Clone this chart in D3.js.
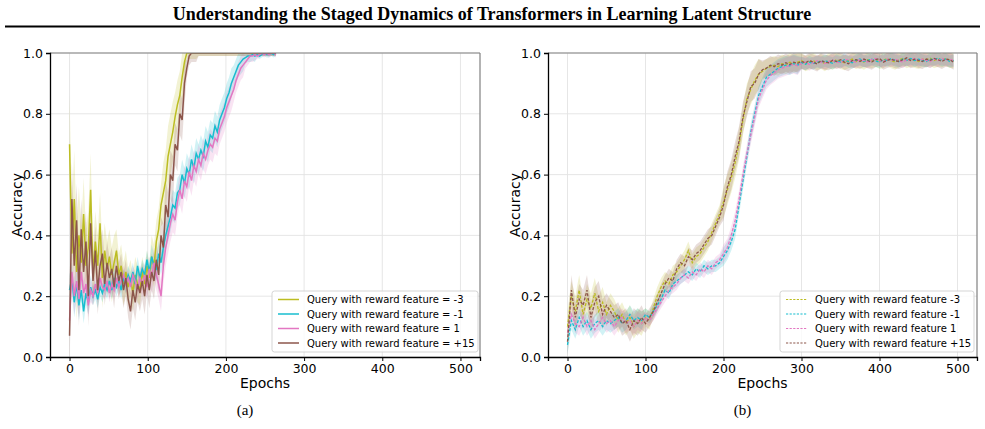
<!DOCTYPE html>
<html lang="en">
<head>
<meta charset="UTF-8">
<title>Staged Dynamics</title>
<script src="https://cdn.jsdelivr.net/npm/d3@7/dist/d3.min.js"></script>
<style>
  body { margin: 0; background: #fff; }
  svg text { font-family: "DejaVu Sans", sans-serif; }
  .serif { font-family: "Liberation Serif", "Times New Roman", serif !important; }
</style>
</head>
<body>
<svg id="fig" width="985" height="429"></svg>
<script>
// ---- data ----
// panel (a): one value every 3 epochs, epoch 0..264
var stepA = 3;
var oliveA = [0.70,0.34,0.52,0.28,0.40,0.31,0.47,0.30,0.36,0.55,
              0.27,0.38,0.30,0.44,0.26,0.35,0.29,0.33,0.27,0.31,
              0.35,0.27,0.30,0.24,0.28,0.23,0.26,0.21,0.27,0.24,
              0.22,0.28,0.24,0.30,0.26,0.33,0.30,0.38,0.42,0.50,
              0.54,0.58,0.66,0.70,0.74,0.79,0.83,0.86,0.92,0.97,
              1.0,1.0,1.0,1.0,1.0,1.0,1.0,1.0,1.0,1.0,
              1.0,1.0,1.0,1.0,1.0,1.0,1.0,1.0,1.0,1.0,
              1.0,1.0,1.0,1.0,1.0,1.0,1.0,1.0,1.0,1.0,
              1.0,1.0,1.0,1.0,1.0,1.0,1.0,1.0,1.0];
var cyanA = [0.22,0.26,0.18,0.24,0.17,0.22,0.15,0.21,0.18,0.23,
             0.20,0.22,0.19,0.23,0.21,0.24,0.22,0.25,0.22,0.26,
             0.23,0.25,0.22,0.26,0.24,0.27,0.25,0.28,0.24,0.30,
             0.26,0.29,0.27,0.32,0.28,0.33,0.30,0.29,0.34,0.31,
             0.36,0.40,0.43,0.46,0.50,0.49,0.54,0.55,0.60,0.57,
             0.62,0.60,0.65,0.62,0.67,0.65,0.68,0.66,0.71,0.69,
             0.73,0.72,0.76,0.74,0.78,0.80,0.82,0.85,0.87,0.90,
             0.92,0.94,0.96,0.97,0.98,0.985,0.99,0.99,0.995,0.99,
             0.995,0.99,0.995,1.0,0.995,0.995,1.0,0.995,1.0];
var pinkA = [0.12,0.28,0.20,0.25,0.19,0.28,0.21,0.24,0.17,0.22,
             0.20,0.24,0.21,0.26,0.23,0.22,0.25,0.21,0.24,0.22,
             0.26,0.23,0.25,0.27,0.24,0.26,0.23,0.27,0.25,0.22,
             0.26,0.24,0.27,0.23,0.29,0.26,0.31,0.27,0.24,0.20,
             0.30,0.36,0.40,0.44,0.47,0.45,0.51,0.55,0.52,0.58,
             0.56,0.61,0.58,0.63,0.61,0.65,0.63,0.67,0.65,0.68,
             0.70,0.69,0.72,0.71,0.75,0.77,0.79,0.82,0.84,0.86,
             0.88,0.91,0.93,0.95,0.96,0.97,0.98,0.99,0.99,0.995,
             0.99,0.995,1.0,0.995,1.0,0.995,1.0,1.0,0.995];
var brownA = [0.07,0.52,0.30,0.45,0.22,0.42,0.28,0.38,0.20,0.44,
              0.25,0.35,0.22,0.30,0.34,0.24,0.31,0.26,0.29,0.23,
              0.30,0.25,0.28,0.22,0.26,0.19,0.15,0.22,0.18,0.24,
              0.21,0.25,0.20,0.27,0.22,0.28,0.25,0.32,0.27,0.40,
              0.36,0.50,0.46,0.60,0.58,0.70,0.68,0.80,0.78,0.90,
              0.95,0.99,1.0,1.0,1.0,1.0,1.0,1.0,1.0,1.0,
              1.0,1.0,1.0,1.0,1.0,1.0,1.0,1.0,1.0,1.0,
              1.0,1.0,1.0,1.0,1.0,1.0,1.0,1.0,1.0,1.0,
              1.0,1.0,1.0,1.0,1.0,1.0,1.0,1.0,1.0];
// shaded spread, one value per 15-epoch bin
var binA = 15;
var oliveSpreadA = [0.16,0.12,0.10,0.09,0.07,0.06,0.05,0.07,0.10,0.08,0.02,0.01,0.01,0.01,0.01,0.01,0.01,0.01];
var cyanSpreadA  = [0.05,0.04,0.03,0.03,0.03,0.03,0.03,0.04,0.05,0.05,0.05,0.05,0.05,0.05,0.04,0.02,0.01,0.01];
var pinkSpreadA  = [0.06,0.04,0.03,0.03,0.03,0.03,0.04,0.05,0.06,0.05,0.05,0.05,0.05,0.05,0.04,0.02,0.01,0.01];
var brownSpreadA = [0.12,0.10,0.08,0.07,0.06,0.06,0.06,0.06,0.08,0.07,0.03,0.01,0.01,0.01,0.01,0.01,0.01,0.01];

// panel (b): one value every 5 epochs, epoch 0..495
var stepB = 5;
var oliveB = [0.10,0.20,0.15,0.22,0.14,0.19,0.16,0.21,0.15,0.18,
              0.14,0.17,0.15,0.12,0.14,0.11,0.13,0.10,0.12,0.11,
              0.13,0.12,0.16,0.20,0.23,0.25,0.24,0.27,0.28,0.30,
              0.32,0.35,0.31,0.33,0.34,0.36,0.38,0.41,0.44,0.47,
              0.51,0.55,0.59,0.64,0.70,0.78,0.85,0.88,0.91,0.93,
              0.94,0.95,0.955,0.96,0.955,0.965,0.96,0.97,0.965,0.97,
              0.975,0.965,0.97,0.975,0.968,0.972,0.965,0.975,0.97,0.978,
              0.972,0.968,0.975,0.98,0.972,0.976,0.97,0.978,0.975,0.98,
              0.972,0.976,0.982,0.975,0.97,0.978,0.982,0.975,0.98,0.976,
              0.972,0.98,0.978,0.983,0.975,0.98,0.978,0.982,0.976,0.975];
var cyanB = [0.04,0.12,0.09,0.13,0.10,0.12,0.09,0.11,0.12,0.10,
             0.12,0.11,0.12,0.13,0.11,0.12,0.14,0.12,0.13,0.12,
             0.14,0.13,0.15,0.17,0.19,0.22,0.21,0.24,0.25,0.26,
             0.27,0.28,0.27,0.29,0.28,0.30,0.29,0.30,0.30,0.31,
             0.33,0.35,0.38,0.42,0.50,0.58,0.66,0.74,0.80,0.86,
             0.89,0.92,0.93,0.94,0.95,0.955,0.96,0.958,0.965,0.96,
             0.968,0.963,0.97,0.965,0.972,0.968,0.975,0.97,0.966,0.975,
             0.97,0.978,0.972,0.968,0.976,0.98,0.972,0.976,0.98,0.974,
             0.97,0.978,0.975,0.982,0.976,0.972,0.98,0.976,0.982,0.975,
             0.98,0.976,0.972,0.98,0.978,0.983,0.976,0.98,0.972,0.976];
var pinkB = [0.08,0.14,0.11,0.10,0.13,0.10,0.12,0.09,0.11,0.13,
             0.11,0.12,0.10,0.12,0.13,0.11,0.12,0.10,0.12,0.11,
             0.13,0.12,0.14,0.16,0.18,0.20,0.22,0.23,0.24,0.26,
             0.27,0.26,0.28,0.27,0.29,0.28,0.30,0.29,0.31,0.32,
             0.34,0.36,0.40,0.45,0.52,0.60,0.67,0.73,0.79,0.85,
             0.88,0.91,0.925,0.935,0.945,0.95,0.955,0.96,0.962,0.958,
             0.965,0.97,0.962,0.968,0.975,0.97,0.965,0.972,0.976,0.97,
             0.968,0.975,0.98,0.972,0.97,0.978,0.975,0.97,0.978,0.982,
             0.975,0.972,0.98,0.976,0.98,0.975,0.97,0.978,0.976,0.982,
             0.975,0.98,0.976,0.972,0.98,0.975,0.982,0.976,0.98,0.974];
var brownB = [0.05,0.22,0.13,0.19,0.17,0.22,0.13,0.18,0.20,0.14,
              0.17,0.15,0.13,0.14,0.11,0.12,0.09,0.12,0.11,0.13,
              0.11,0.13,0.15,0.18,0.21,0.24,0.26,0.25,0.29,0.31,
              0.30,0.33,0.32,0.34,0.35,0.37,0.39,0.40,0.43,0.46,
              0.50,0.56,0.60,0.66,0.71,0.79,0.84,0.89,0.90,0.93,
              0.945,0.95,0.96,0.955,0.965,0.96,0.968,0.962,0.97,0.966,
              0.972,0.968,0.975,0.97,0.964,0.975,0.97,0.968,0.976,0.972,
              0.978,0.97,0.965,0.975,0.978,0.972,0.98,0.975,0.97,0.978,
              0.982,0.97,0.976,0.98,0.975,0.972,0.978,0.984,0.975,0.98,
              0.976,0.972,0.98,0.976,0.982,0.978,0.972,0.98,0.978,0.97];
// shaded spread, one value per 50-epoch bin
var binB = 50;
var oliveSpreadB = [0.05,0.04,0.03,0.03,0.05,0.03,0.025,0.025,0.025,0.025];
var cyanSpreadB  = [0.03,0.03,0.02,0.02,0.03,0.03,0.02,0.02,0.02,0.02];
var pinkSpreadB  = [0.03,0.03,0.02,0.02,0.03,0.03,0.02,0.02,0.02,0.02];
var brownSpreadB = [0.05,0.04,0.03,0.03,0.05,0.03,0.025,0.025,0.025,0.025];

var colors = ['#bcbd22', '#17becf', '#e377c2', '#8c564b'];
var labelsA = ['Query with reward feature = -3', 'Query with reward feature = -1',
               'Query with reward feature = 1', 'Query with reward feature = +15'];
var labelsB = ['Query with reward feature -3', 'Query with reward feature -1',
               'Query with reward feature 1', 'Query with reward feature +15'];
var xTicks = [0, 100, 200, 300, 400, 500];
var yTicks = [0, 0.2, 0.4, 0.6, 0.8, 1.0];

var svg = d3.select('#fig');

// title and rule
svg.append('text').attr('class', 'serif').attr('x', 492).attr('y', 20)
   .attr('text-anchor', 'middle').attr('font-weight', 'bold').attr('font-size', 18)
   .text('Understanding the Staged Dynamics of Transformers in Learning Latent Structure');
svg.append('line').attr('x1', 5).attr('x2', 980).attr('y1', 26.5).attr('y2', 26.5)
   .attr('stroke', '#000').attr('stroke-width', 2);

function toPoints(vals, step, spread, bin) {
    return vals.map(function(v, i) {
        var e = i * step;
        var s = spread[Math.min(spread.length - 1, Math.floor(e / bin))];
        return {e: e, v: v, lo: v - s, hi: v + s};
    });
}

function drawPanel(opt) {
    var g = svg.append('g');
    var x = d3.scaleLinear().domain([-25, 525]).range([opt.left, opt.right]);
    var y = d3.scaleLinear().domain([0, 1]).range([357, 53]);

    // grid
    g.selectAll('.gx').data(xTicks).enter().append('line')
     .attr('x1', function(d){ return x(d); }).attr('x2', function(d){ return x(d); })
     .attr('y1', 53).attr('y2', 357).attr('stroke', '#e3e3e3').attr('stroke-width', 0.9);
    g.selectAll('.gy').data(yTicks).enter().append('line')
     .attr('x1', opt.left).attr('x2', opt.right)
     .attr('y1', function(d){ return y(d); }).attr('y2', function(d){ return y(d); })
     .attr('stroke', '#e3e3e3').attr('stroke-width', 0.9);

    var clipId = 'clip' + opt.name;
    svg.append('clipPath').attr('id', clipId).append('rect')
       .attr('x', opt.left).attr('y', 53).attr('width', opt.right - opt.left).attr('height', 304);
    var plot = g.append('g').attr('clip-path', 'url(#' + clipId + ')');

    var area = d3.area().x(function(d){ return x(d.e); })
        .y0(function(d){ return y(d.lo); }).y1(function(d){ return y(d.hi); });
    var line = d3.line().x(function(d){ return x(d.e); }).y(function(d){ return y(d.v); });

    opt.series.forEach(function(s, i) {
        var pts = toPoints(s.vals, opt.step, s.spread, opt.bin);
        plot.append('path').attr('d', area(pts)).attr('fill', colors[i]).attr('opacity', 0.2);
    });
    opt.series.forEach(function(s, i) {
        var pts = toPoints(s.vals, opt.step, s.spread, opt.bin);
        plot.append('path').attr('d', line(pts)).attr('fill', 'none')
            .attr('stroke', colors[i]).attr('stroke-width', opt.dashed ? 1.3 : 1.5)
            .attr('stroke-dasharray', opt.dashed ? '3,1.6' : null);
    });

    // frame: top/right grey, left/bottom black
    g.append('line').attr('x1', opt.left).attr('x2', opt.right).attr('y1', 53).attr('y2', 53)
     .attr('stroke', '#808080').attr('stroke-width', 1.2);
    g.append('line').attr('x1', opt.right).attr('x2', opt.right).attr('y1', 53).attr('y2', 357)
     .attr('stroke', '#808080').attr('stroke-width', 1.2);

    var xa = g.append('g').attr('transform', 'translate(0,357)')
        .call(d3.axisBottom(x).tickValues(xTicks).tickSize(4).tickPadding(3).tickFormat(d3.format('d')));
    var ya = g.append('g').attr('transform', 'translate(' + opt.left + ',0)')
        .call(d3.axisLeft(y).tickValues(yTicks).tickSize(4).tickPadding(3).tickFormat(d3.format('.1f')));
    [xa, ya].forEach(function(a) {
        a.select('.domain').attr('stroke', '#000').attr('stroke-width', 1.3);
        a.selectAll('text').attr('font-size', 12.5).attr('fill', '#000')
         .attr('font-family', '"DejaVu Sans", sans-serif');
    });

    var cx = (opt.left + opt.right) / 2;
    g.append('text').attr('x', cx).attr('y', 388).attr('text-anchor', 'middle')
     .attr('font-size', 14).text('Epochs');
    g.append('text').attr('transform', 'translate(' + (opt.left - 28) + ',205) rotate(-90)')
     .attr('text-anchor', 'middle').attr('font-size', 14).text('Accuracy');
    g.append('text').attr('class', 'serif').attr('x', cx - 20).attr('y', 415)
     .attr('text-anchor', 'middle').attr('font-size', 15).text(opt.caption);

    // legend
    var lg = g.append('g').attr('transform', 'translate(' + opt.legX + ',291)');
    lg.append('rect').attr('width', opt.legW).attr('height', 61).attr('rx', 2.5)
      .attr('fill', '#fff').attr('fill-opacity', 0.8).attr('stroke', '#d0d0d0').attr('stroke-width', 0.9);
    opt.labels.forEach(function(t, i) {
        var yy = 8.5 + i * 14.5;
        lg.append('line').attr('x1', 6).attr('x2', 27).attr('y1', yy).attr('y2', yy)
          .attr('stroke', colors[i]).attr('stroke-width', opt.dashed ? 1.2 : 1.5)
          .attr('stroke-dasharray', opt.dashed ? '2.2,1.4' : null);
        lg.append('text').attr('x', 35).attr('y', yy + 3.6).attr('font-size', 10).text(t);
    });
}

drawPanel({
    name: 'a', left: 50, right: 480, step: stepA, bin: binA, dashed: false,
    caption: '(a)', labels: labelsA, legX: 272, legW: 206,
    series: [
        {vals: oliveA, spread: oliveSpreadA},
        {vals: cyanA, spread: cyanSpreadA},
        {vals: pinkA, spread: pinkSpreadA},
        {vals: brownA, spread: brownSpreadA}
    ]
});
drawPanel({
    name: 'b', left: 548, right: 977, step: stepB, bin: binB, dashed: true,
    caption: '(b)', labels: labelsB, legX: 780, legW: 194,
    series: [
        {vals: oliveB, spread: oliveSpreadB},
        {vals: cyanB, spread: cyanSpreadB},
        {vals: pinkB, spread: pinkSpreadB},
        {vals: brownB, spread: brownSpreadB}
    ]
});
</script>
</body>
</html>
